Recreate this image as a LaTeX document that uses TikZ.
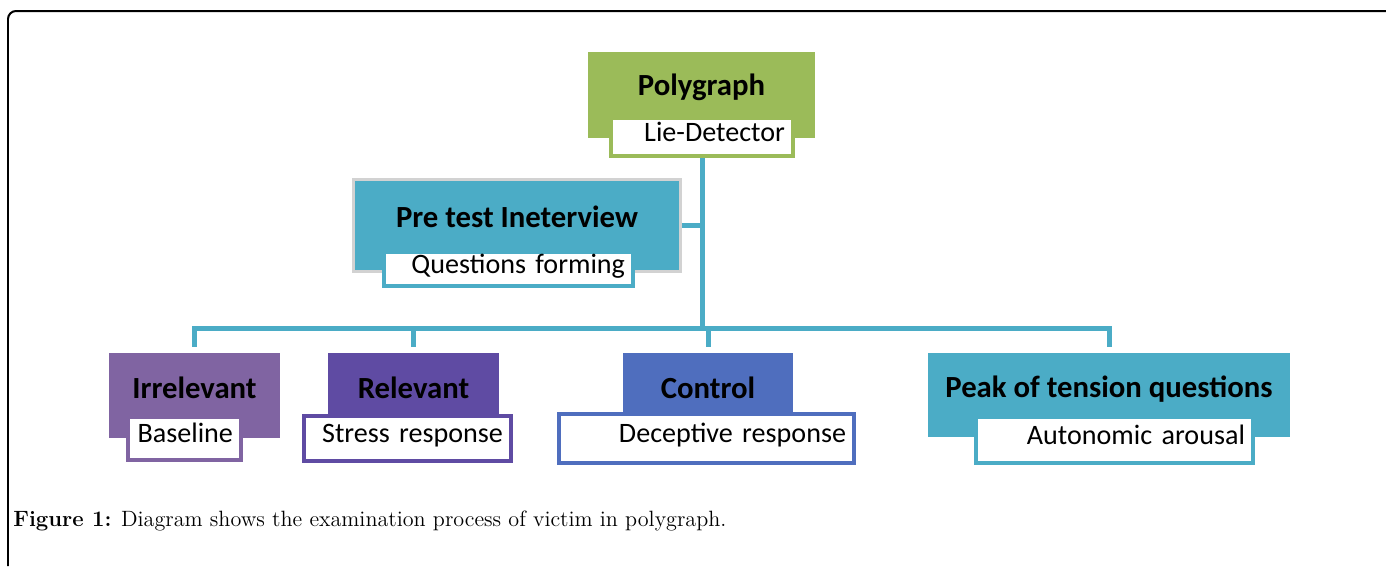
\documentclass[tikz,border=0pt]{standalone}
\usepackage{fontspec}
\usepackage{tikz}
\usetikzlibrary{positioning,calc}
\newfontfamily\calibri{Carlito}

\definecolor{polygreen}{HTML}{9BBB59}
\definecolor{teal}{HTML}{4BACC6}
\definecolor{irrpurple}{HTML}{8064A2}
\definecolor{relpurple}{HTML}{5F4BA3}
\definecolor{ctlblue}{HTML}{4F6EBE}

\tikzset{
	head/.style={fill=#1, inner xsep=0pt, inner ysep=0pt, anchor=base,
		font=\calibri\bfseries\fontsize{17.5}{20}\selectfont},
	sub/.style={draw=#1, fill=white, line width=0.08cm, inner xsep=0.16cm, inner ysep=0pt,
		align=right, text height=0.64em, text depth=0.16em,
		font=\calibri\fontsize{16}{18}\selectfont},
	link/.style={draw=teal, line width=0.1cm}
}

\begin{document}
\begin{tikzpicture}[x=0.02cm, y=-0.02cm]
					\useasboundingbox (0,0) rectangle (1386,566);
					\draw[line width=0.04cm, rounded corners=0.16cm] (1386,11) -- (8,11) -- (8,566);
					
					% Polygraph
					\node[head=polygreen, minimum width=4.54cm, text height=0.86cm, text depth=0.86cm] (poly) at (701.5,95) {Polygraph};
					\node[sub=polygreen, text width=3.32cm, minimum height=0.76cm] (lie) at (702,137) {Lie-Detector};
					
					% Pre test interview
					\node[head=teal, draw=gray!35, line width=0.06cm, minimum width=6.54cm, text height=0.95cm, text depth=0.89cm] (pre) at (517,227) {Pre test Ineterview};
					\node[sub=teal, text width=4.66cm, minimum height=0.68cm] (qf) at (508.5,269) {Questions forming};
					
					% Questions
					\node[head=irrpurple, minimum width=3.42cm, text height=0.9cm, text depth=0.8cm] (irr) at (194.5,398) {Irrelevant};
					\node[sub=irrpurple, text width=1.94cm, minimum height=0.86cm] (base) at (184.5,438.5) {Baseline};
					
					\node[head=relpurple, minimum width=3.42cm, text height=0.9cm, text depth=0.8cm] (rel) at (413.5,398) {Relevant};
					\node[sub=relpurple, text width=3.82cm, minimum height=0.9cm] (stress) at (407.5,438.5) {Stress response};
					
					\node[head=ctlblue, minimum width=3.4cm, text height=0.9cm, text depth=0.8cm] (ctl) at (708,398) {Control};
					\node[sub=ctlblue, text width=5.58cm, minimum height=0.98cm] (decep) at (706.5,438.5) {Deceptive response};
					
					\node[head=teal, minimum width=7.24cm, text height=0.88cm, text depth=0.8cm] (peak) at (1109,397) {Peak of tension questions};
					\node[sub=teal, text width=5.22cm, minimum height=0.92cm] (auton) at (1114.5,440) {Autonomic arousal};
					
					% connectors
					\coordinate (bus) at (702,328);
					\draw[link] (lie.south) -- (bus);
					\draw[link] (pre.east) -- (pre.east -| lie.south);
					\draw[link] ([yshift=0.12cm]irr.north) |- (bus) -| ([yshift=0.12cm]peak.north);
					\draw[link] ([yshift=0.12cm]rel.north) -- (rel.north |- bus);
					\draw[link] ([yshift=0.12cm]ctl.north) -- (ctl.north |- bus);
					
					\node[anchor=base west, inner sep=0pt, font=\fontsize{12.6}{15}\selectfont] (cap) at (13,526) {\textbf{Figure 1:} Diagram shows the examination process of victim in polygraph.};
				\end{tikzpicture}
\end{document}
